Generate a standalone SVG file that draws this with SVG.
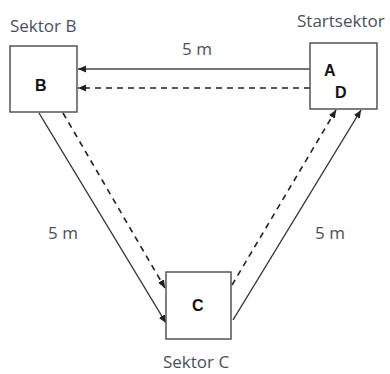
<svg xmlns="http://www.w3.org/2000/svg" width="390" height="374" viewBox="0 0 390 374">
<style>
.box{fill:#fff;stroke:#555;stroke-width:1.5}
.lbl{font-family:"Open Sans","Liberation Sans",sans-serif;font-size:17px;fill:#4a4f5c}
.let{font-family:"Liberation Sans",Arial,sans-serif;font-size:16px;font-weight:bold;fill:#111}
.solid{stroke:#333;stroke-width:1.4;fill:none}
.gray{stroke:#777;stroke-width:2;fill:none}
.dash{stroke:#222;stroke-width:1.6;fill:none;stroke-dasharray:6 5}
</style>
<defs>
<marker id="ah" markerUnits="userSpaceOnUse" markerWidth="9" markerHeight="8" refX="8" refY="3.5" orient="auto">
<path d="M0,0 L8,3.5 L0,7 z" fill="#222"/>
</marker>
</defs>
<rect width="390" height="374" fill="#fff"/>
<g id="connectors">
<line class="gray" x1="310" y1="69" x2="78" y2="69" marker-end="url(#ah)"/>
<line class="dash" x1="310" y1="88" x2="78" y2="88" marker-end="url(#ah)"/>
<line class="solid" x1="39" y1="113" x2="166" y2="323" marker-end="url(#ah)"/>
<line class="dash" x1="63" y1="113" x2="165" y2="288" marker-end="url(#ah)"/>
<line class="dash" x1="232" y1="285" x2="336" y2="110" marker-end="url(#ah)"/>
<line class="solid" x1="233" y1="320" x2="361" y2="110" marker-end="url(#ah)"/>
<text class="lbl" x="182" y="55">5 m</text>
<text class="lbl" x="48" y="239">5 m</text>
<text class="lbl" x="315" y="239">5 m</text>
</g>
<g id="nodeB">
<text class="lbl" x="10" y="32">Sektor B</text>
<rect class="box" x="10" y="46" width="67" height="66"/>
<text class="let" x="35" y="91">B</text>
</g>
<g id="nodeA">
<text class="lbl" x="297" y="27">Startsektor</text>
<rect class="box" x="310" y="43" width="67" height="66"/>
<text class="let" x="324" y="76">A</text>
<text class="let" x="335" y="98">D</text>
</g>
<g id="nodeC">
<rect class="box" x="166" y="272" width="65" height="67"/>
<text class="let" x="192" y="311">C</text>
<text class="lbl" x="163" y="368">Sektor C</text>
</g>
</svg>
